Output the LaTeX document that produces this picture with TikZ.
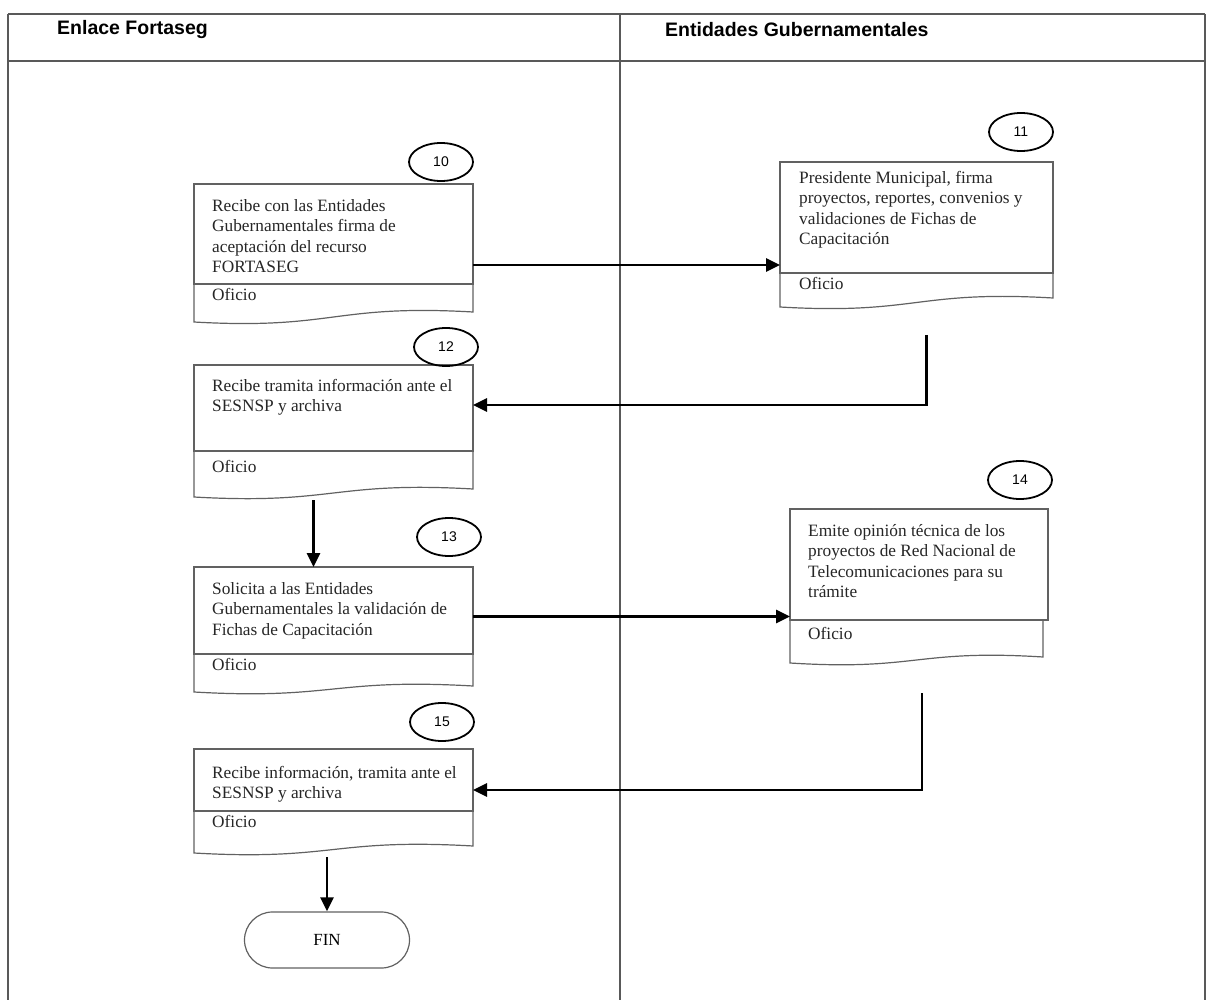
\documentclass[tikz,border=0pt]{standalone}
\usepackage{fontspec}
\setmainfont{Liberation Serif}
\newfontfamily\hdrfont{Liberation Sans}
\usetikzlibrary{shapes.geometric,arrows.meta,calc}
\definecolor{frameline}{gray}{0.35}
\definecolor{boxline}{gray}{0.38}
\tikzset{
  frame/.style={draw=frameline,line width=1.6pt},
  rect/.style={draw=boxline,line width=1.2pt,rectangle,inner sep=0pt,outer sep=0pt,anchor=north west},
  lower/.style={draw=boxline,line width=1.2pt},
  txt/.style={anchor=north west,inner sep=0pt,align=left,font=\fontsize{17.3}{20.5}\selectfont,text=black!85},
  hdr/.style={anchor=west,inner sep=0pt,font=\hdrfont\bfseries\fontsize{19.5}{22}\selectfont},
  numc/.style={ellipse,draw=black,line width=1.8pt,minimum width=64pt,minimum height=38pt,inner sep=0pt,font=\hdrfont\fontsize{14}{16}\selectfont},
  finbox/.style={draw=boxline,line width=1.2pt,rounded corners=28pt,minimum width=165pt,minimum height=56pt,inner sep=0pt,font=\fontsize{17}{20}\selectfont},
  arr/.style={draw=black,line width=2.6pt,-{Triangle[length=14pt,width=13pt]}},
}
\begin{document}
\begin{tikzpicture}[x=1pt,y=-1pt]
\useasboundingbox (0,0) rectangle (1208,1000);
\fill[white] (0,0) rectangle (1208,1000);
% frame
\draw[frame] (8,14) -- (1205,14);
\draw[frame] (8,61) -- (1205,61);
\draw[frame] (8,14) -- (8,1000);
\draw[frame] (1205,14) -- (1205,1000);
\draw[frame] (620,14) -- (620,1000);
\node[hdr] (h1) at (57,30) {Enlace Fortaseg};
\node[hdr] (h2) at (665,30) {Entidades Gubernamentales};

% box 10
\node[rect,minimum width=279pt,minimum height=100pt] (b10) at (194,184) {};
\draw[lower] (b10.south west) -- ++(0,38) .. controls +(140,8) and +(-140,-8) .. ([yshift=-28pt]b10.south east) -- (b10.south east);
\node[txt] (t10) at ([xshift=18pt,yshift=-15pt]b10.north west) {Recibe con las Entidades\\Gubernamentales firma de\\aceptación del recurso\\FORTASEG};
\node[txt] (o10) at ([xshift=18pt,yshift=-4pt]b10.south west) {Oficio};
\node[numc] (n10) at (441,162) {10};

% box 11
\node[rect,minimum width=273pt,minimum height=111pt] (b11) at (780,162) {};
\draw[lower] (b11.south west) -- ++(0,34) .. controls +(137,8) and +(-137,-8) .. ([yshift=-25pt]b11.south east) -- (b11.south east);
\node[txt] (t11) at ([xshift=19pt,yshift=-9pt]b11.north west) {Presidente Municipal, firma\\proyectos, reportes, convenios y\\validaciones de Fichas de\\Capacitación};
\node[txt] (o11) at ([xshift=19pt,yshift=-4pt]b11.south west) {Oficio};
\node[numc] (n11) at (1021,132) {11};

% box 12
\node[rect,minimum width=279pt,minimum height=86pt] (b12) at (194,365) {};
\draw[lower] (b12.south west) -- ++(0,46) .. controls +(140,8) and +(-140,-8) .. ([yshift=-38pt]b12.south east) -- (b12.south east);
\node[txt] (t12) at ([xshift=18pt,yshift=-14pt]b12.north west) {Recibe tramita información ante el\\SESNSP y archiva};
\node[txt] (o12) at ([xshift=18pt,yshift=-9pt]b12.south west) {Oficio};
\node[numc] (n12) at (446,347) {12};

% box 13
\node[rect,minimum width=279pt,minimum height=87pt] (b13) at (194,567) {};
\draw[lower] (b13.south west) -- ++(0,38) .. controls +(140,8) and +(-140,-8) .. ([yshift=-32pt]b13.south east) -- (b13.south east);
\node[txt] (t13) at ([xshift=18pt,yshift=-15pt]b13.north west) {Solicita a las Entidades\\Gubernamentales la validación de\\Fichas de Capacitación};
\node[txt] (o13) at ([xshift=18pt,yshift=-4pt]b13.south west) {Oficio};
\node[numc] (n13) at (449,537) {13};

% box 14
\node[rect,minimum width=258pt,minimum height=111pt] (b14) at (790,509) {};
\draw[lower] (b14.south west) -- ++(0,43) .. controls +(127,8) and +(-127,-8) .. ([xshift=-5pt,yshift=-37pt]b14.south east) -- ([xshift=-5pt]b14.south east);
\node[txt] (t14) at ([xshift=18pt,yshift=-15pt]b14.north west) {Emite opinión técnica de los\\proyectos de Red Nacional de\\Telecomunicaciones para su\\trámite};
\node[txt] (o14) at ([xshift=18pt,yshift=-7pt]b14.south west) {Oficio};
\node[numc] (n14) at (1020,480) {14};

% box 15
\node[rect,minimum width=279pt,minimum height=62pt] (b15) at (194,749) {};
\draw[lower] (b15.south west) -- ++(0,42) .. controls +(140,8) and +(-140,-8) .. ([yshift=-35pt]b15.south east) -- (b15.south east);
\node[txt] (t15) at ([xshift=18pt,yshift=-17pt]b15.north west) {Recibe información, tramita ante el\\SESNSP y archiva};
\node[txt] (o15) at ([xshift=18pt,yshift=-4pt]b15.south west) {Oficio};
\node[numc] (n15) at (442,722) {15};

% FIN
\node[finbox] (fin) at (327,940) {FIN};

% connectors
\draw[arr] ([yshift=19pt]b10.south east) -- ([yshift=19pt]b10.south east -| b11.west);
\draw[arr] ([xshift=10pt,yshift=-62pt]b11.south) |- ([yshift=3pt]b12.east);
\draw[arr] ([xshift=-20pt,yshift=-49pt]b12.south) -- ([xshift=-20pt]b13.north);
\draw[arr] ([yshift=-6pt]b13.east) -- ([yshift=-6pt]b13.east -| b14.west);
\draw[arr] ([xshift=3pt,yshift=-73pt]b14.south) |- ([yshift=-10pt]b15.east);
\draw[arr] ([yshift=-46pt]b15.south -| fin.north) -- (fin.north);
\end{tikzpicture}
\end{document}
